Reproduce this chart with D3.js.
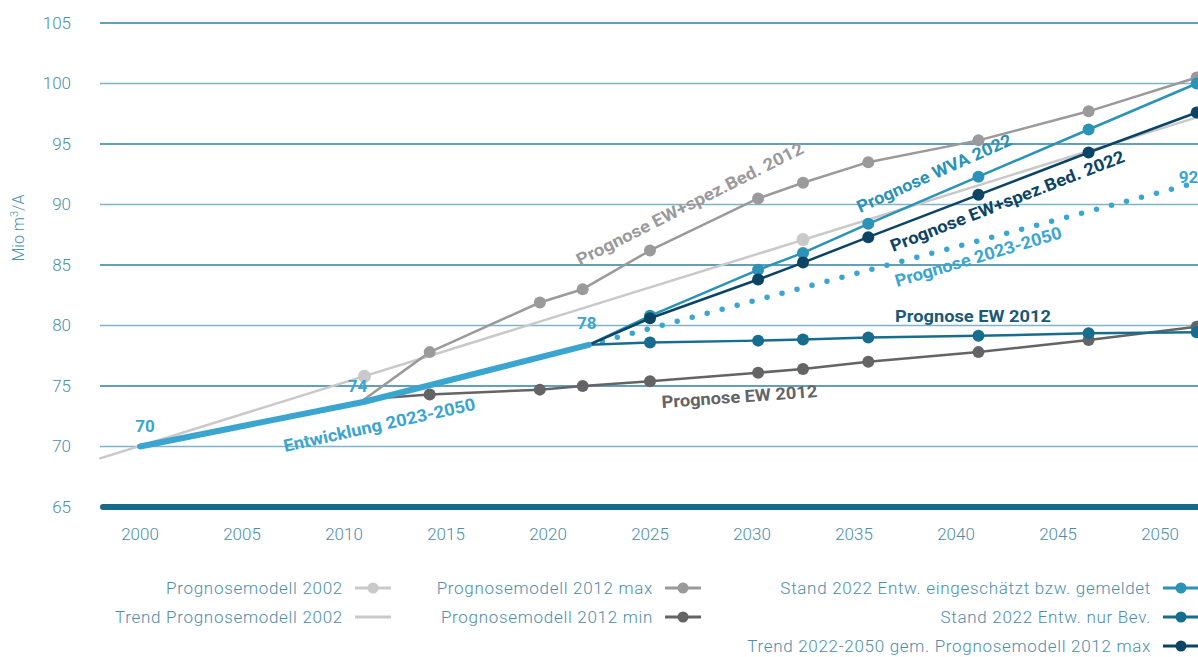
<!DOCTYPE html>
<html><head><meta charset="utf-8">
<script src="https://cdn.jsdelivr.net/npm/d3@7"></script>
<style>
body{margin:0;background:#fff;}
svg{display:block;font-family:Roboto, "DejaVu Sans", sans-serif;}
</style></head>
<body><svg id="c" width="1198" height="657"></svg>
<script>
// ---------- data ----------
const yTicks = [65, 70, 75, 80, 85, 90, 95, 100, 105];
const xTicks = [2000, 2005, 2010, 2015, 2020, 2025, 2030, 2035, 2040, 2045, 2050];

const trend2002Years = [1998, 2052];
const trend2002Values = [69.0, 97.3];
const model2002Years = [2011, 2032.5];
const model2002Values = [75.8, 87.1];

const years2012 = [2011, 2014.2, 2019.6, 2021.7, 2025, 2030.3, 2032.5, 2035.7, 2041.1, 2046.5, 2051.8];
const max2012 = [73.9, 77.8, 81.9, 83.0, 86.2, 90.5, 91.8, 93.5, 95.3, 97.7, 100.5];
const min2012 = [73.9, 74.3, 74.7, 75.0, 75.4, 76.1, 76.4, 77.0, 77.8, 78.8, 79.9];

const histYears = [2000, 2011, 2022];
const histValues = [70, 73.7, 78.4];
const histLabels = ["70", "74", "78"];

const years2022 = [2022, 2025, 2030.3, 2032.5, 2035.7, 2041.1, 2046.5, 2051.8];
const wva2022 = [78.4, 80.8, 84.6, 86.0, 88.4, 92.3, 96.2, 100.0];
const bev2022 = [78.4, 78.6, 78.75, 78.85, 79.0, 79.15, 79.35, 79.45];
const trend2022 = [78.4, 80.6, 83.8, 85.2, 87.3, 90.8, 94.3, 97.6];

const progYears = [2022, 2052];
const progValues = [78.4, 91.9];
const progEndLabel = "92";

const legendCol1 = ["Prognosemodell 2002", "Trend Prognosemodell 2002"];
const legendCol2 = ["Prognosemodell 2012 max", "Prognosemodell 2012 min"];
const legendCol3 = ["Stand 2022 Entw. eingeschätzt bzw. gemeldet", "Stand 2022 Entw. nur Bev.", "Trend 2022-2050 gem. Prognosemodell 2012 max"];

// ---------- styles ----------
const C = {
  text: "#4d8eab",
  gridA: "#2f7f9e",
  gridB: "#7fb3c6",
  base: "#176a89",
  lgray: "#c9c9c9",
  mgray: "#9a9a9c",
  dgray: "#646466",
  lblue: "#3aa5d0",
  mblue: "#2b92b8",
  teal: "#176d8e",
  navy: "#0c4465"
};

const svg = d3.select("#c");
const x = d3.scaleLinear().domain([2000, 2050]).range([140, 1160]);
const y = d3.scaleLinear().domain([65, 105]).range([507, 23]);
const X0 = 100, X1 = 1198;

// gridlines
svg.append("g").selectAll("line").data(yTicks.filter(d => d > 65)).join("line")
  .attr("x1", X0).attr("x2", X1)
  .attr("y1", d => y(d)).attr("y2", d => y(d))
  .attr("stroke", d => (d % 10 === 5) ? C.gridA : C.gridB)
  .attr("stroke-width", 1.4);

// y axis labels
svg.append("g").selectAll("text").data(yTicks).join("text")
  .attr("x", 71).attr("y", d => y(d)).attr("dy", "0.35em")
  .attr("text-anchor", "end").attr("fill", C.text)
  .attr("font-size", 17).attr("font-weight", 300).text(d => d);

// x axis labels
svg.append("g").selectAll("text").data(xTicks).join("text")
  .attr("x", d => x(d)).attr("y", 540)
  .attr("text-anchor", "middle").attr("fill", C.text)
  .attr("font-size", 17).attr("font-weight", 300).text(d => d);

// y title
svg.append("text").attr("transform", "translate(24,228) rotate(-90)")
  .attr("text-anchor", "middle").attr("fill", C.text)
  .attr("font-size", 16).attr("font-weight", 300)
  .html('Mio m<tspan dy="-6" font-size="11">3</tspan><tspan dy="6">/A</tspan>');

const line = d3.line().x(d => x(d[0])).y(d => y(d[1]));
const zip = (a, b) => a.map((v, i) => [v, b[i]]);

function series(yearsArr, vals, color, width, dots, skipFirst) {
  const pts = zip(yearsArr, vals);
  svg.append("path").datum(pts).attr("d", line)
    .attr("fill", "none").attr("stroke", color).attr("stroke-width", width)
    .attr("stroke-linejoin", "round").attr("stroke-linecap", "round");
  if (dots) {
    svg.append("g").selectAll("circle").data(skipFirst ? pts.slice(1) : pts).join("circle")
      .attr("cx", d => x(d[0])).attr("cy", d => y(d[1])).attr("r", 6).attr("fill", color);
  }
}

// trend 2002
svg.append("path").datum(zip(trend2002Years, trend2002Values)).attr("d", line)
  .attr("fill", "none").attr("stroke", C.lgray).attr("stroke-width", 2.5);
svg.append("g").selectAll("circle").data(zip(model2002Years, model2002Values)).join("circle")
  .attr("cx", d => x(d[0])).attr("cy", d => y(d[1])).attr("r", 6.5).attr("fill", C.lgray);

// 2012 models
series(years2012, min2012, C.dgray, 2.5, true, true);
series(years2012, max2012, C.mgray, 2.5, true, true);

// dotted forecast
svg.append("path").datum(zip(progYears, progValues)).attr("d", line)
  .attr("fill", "none").attr("stroke", C.lblue).attr("stroke-width", 5.5)
  .attr("stroke-linecap", "round").attr("stroke-dasharray", "0 15.5")
  .attr("stroke-dashoffset", -14);

// 2022 series
series(years2022, bev2022, C.teal, 2.5, true, true);
series(years2022, wva2022, C.mblue, 2.5, true, true);
series(years2022, trend2022, C.navy, 2.5, true, true);

// historic development
series(histYears, histValues, C.lblue, 6, false);

// baseline
svg.append("line").attr("x1", X0 + 3).attr("x2", X1 + 5)
  .attr("y1", y(65)).attr("y2", y(65))
  .attr("stroke", C.base).attr("stroke-width", 6).attr("stroke-linecap", "round");

// value labels
const lblOff = [[5, -15], [-7, -10], [-2, -16]];
svg.append("g").selectAll("text").data(zip(histYears, histValues)).join("text")
  .attr("x", (d, i) => x(d[0]) + lblOff[i][0]).attr("y", (d, i) => y(d[1]) + lblOff[i][1])
  .attr("text-anchor", "middle").attr("fill", C.lblue)
  .attr("font-size", 17).attr("font-weight", 700).text((d, i) => histLabels[i]);
svg.append("text").attr("x", x(progYears[1]) - 22).attr("y", y(progValues[1]) + 1)
  .attr("fill", C.lblue).attr("font-size", 17).attr("font-weight", 700).text(progEndLabel);

// rotated annotations
const notes = [
  {t: "Entwicklung 2023-2050", x: 285, y: 452, a: -12.5, c: C.lblue, len: 196},
  {t: "Prognose EW+spez.Bed. 2012", x: 580, y: 266, a: -26.8, c: C.mgray, len: 252},
  {t: "Prognose WVA 2022", x: 860, y: 213, a: -24.2, c: C.mblue, len: 168},
  {t: "Prognose EW+spez.Bed. 2022", x: 893, y: 252, a: -21.3, c: C.navy, len: 250},
  {t: "Prognose 2023-2050", x: 897, y: 287, a: -16.5, c: C.lblue, len: 173},
  {t: "Prognose EW 2012", x: 895, y: 322, a: 0, c: "#1a5a79", len: 156},
  {t: "Prognose EW 2012", x: 662, y: 408, a: -4, c: C.dgray, len: 156}
];
svg.append("g").selectAll("text").data(notes).join("text")
  .attr("transform", d => `translate(${d.x},${d.y}) rotate(${d.a})`)
  .attr("fill", d => d.c).attr("font-size", 17).attr("font-weight", 700)
  .attr("textLength", d => d.len).attr("lengthAdjust", "spacingAndGlyphs")
  .text(d => d.t);

// legend
function legend(items, rightX, swatches) {
  items.forEach((t, i) => {
    const yy = 588 + i * 29;
    svg.append("text").attr("x", rightX).attr("y", yy).attr("dy", "0.35em")
      .attr("text-anchor", "end").attr("fill", C.text)
      .attr("font-size", 17).attr("font-weight", 300)
      .attr("letter-spacing", 0.7).text(t);
    const s = swatches[i];
    svg.append("line").attr("x1", rightX + 12).attr("x2", rightX + 48)
      .attr("y1", yy).attr("y2", yy).attr("stroke", s.c).attr("stroke-width", 3);
    if (s.dot) svg.append("circle").attr("cx", rightX + 30).attr("cy", yy).attr("r", 5.5).attr("fill", s.c);
  });
}
legend(legendCol1, 343, [{c: C.lgray, dot: true}, {c: C.lgray, dot: false}]);
legend(legendCol2, 653, [{c: C.mgray, dot: true}, {c: C.dgray, dot: true}]);
legend(legendCol3, 1151, [{c: C.mblue, dot: true}, {c: C.teal, dot: true}, {c: C.navy, dot: true}]);
</script></body></html>
